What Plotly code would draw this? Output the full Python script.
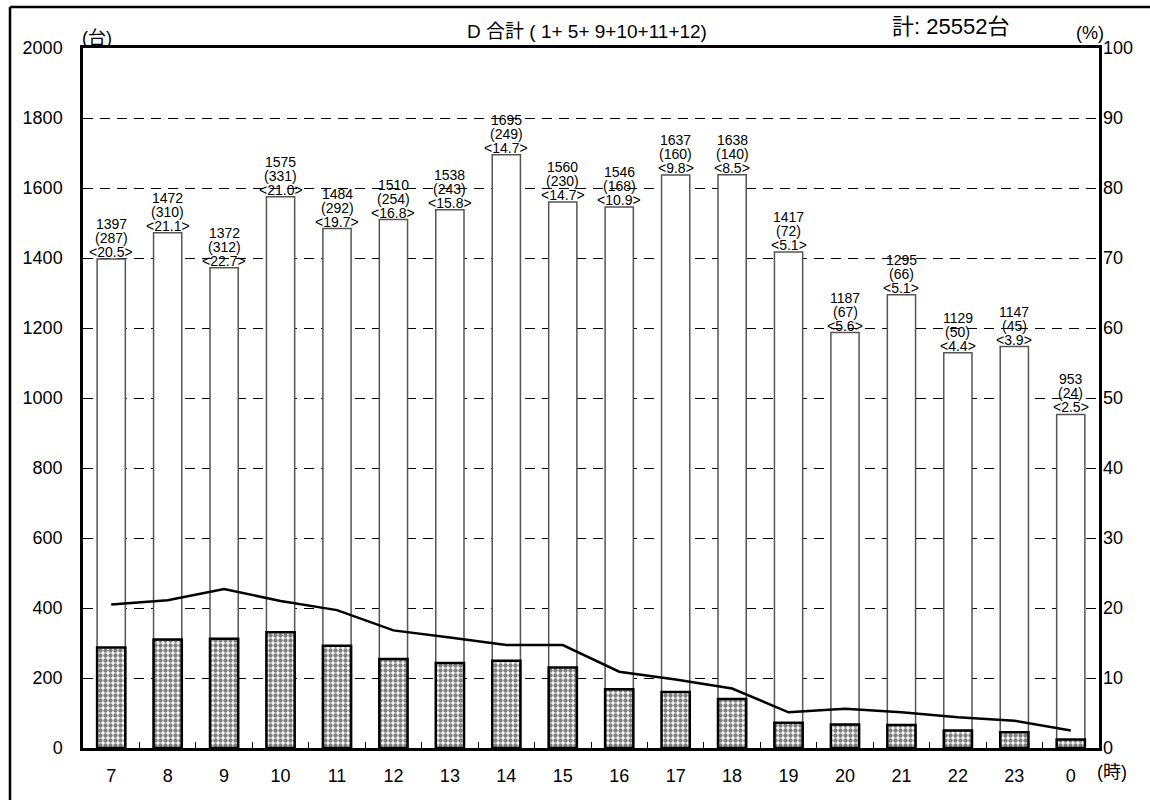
import plotly.graph_objects as go

hours = ["7", "8", "9", "10", "11", "12", "13", "14", "15", "16", "17", "18", "19", "20", "21", "22", "23", "0"]
total = [1397, 1472, 1372, 1575, 1484, 1510, 1538, 1695, 1560, 1546, 1637, 1638, 1417, 1187, 1295, 1129, 1147, 953]
large = [287, 310, 312, 331, 292, 254, 243, 249, 230, 168, 160, 140, 72, 67, 66, 50, 45, 24]
ratio = [20.5, 21.1, 22.7, 21.0, 19.7, 16.8, 15.8, 14.7, 14.7, 10.9, 9.8, 8.5, 5.1, 5.6, 5.1, 4.4, 3.9, 2.5]
title_text = "D 合計 ( 1+ 5+ 9+10+11+12)"
sum_text = "計: 25552台"

FONT = "Arial, 'Liberation Sans', 'Noto Sans CJK JP', sans-serif"

W, H = 1150, 800
L, R, T, B = 83, 51, 48, 52
PW, PH = W - L - R, H - T - B

def px(x):
    return (x - L) / PW

def py(y):
    return (H - B - y) / PH

fig = go.Figure()
fig.add_trace(go.Bar(
    x=hours, y=total, name="total",
    marker=dict(color="white", line=dict(color="#555555", width=1.5)),
    hoverinfo="x+y",
))
fig.add_trace(go.Bar(
    x=hours, y=large, name="large",
    marker=dict(color="white", line=dict(color="black", width=2.5),
                pattern=dict(shape=".", fgcolor="black", bgcolor="white", size=5, solidity=0.6)),
    hoverinfo="x+y",
))
fig.add_trace(go.Scatter(
    x=hours, y=ratio, yaxis="y2", mode="lines",
    line=dict(color="black", width=2.5),
))

annotations = []
for i, (t, l, r) in enumerate(zip(total, large, ratio)):
    for txt, sh in ((str(t), 35), (f"({l})", 21), (f"<{r:.1f}>", 7)):
        annotations.append(dict(
            x=i, y=t, xref="x", yref="y", text=txt.replace("<", "&lt;").replace(">", "&gt;"),
            showarrow=False, yshift=sh, yanchor="middle", xanchor="center",
            font=dict(family=FONT, size=14, color="black"),
        ))

annotations += [
    dict(x=px(97), y=py(38), xref="paper", yref="paper", text="(台)", showarrow=False,
         font=dict(family=FONT, size=18, color="black"), xanchor="center", yanchor="middle"),
    dict(x=px(587), y=py(32), xref="paper", yref="paper", text=title_text, showarrow=False,
         font=dict(family=FONT, size=19, color="black"), xanchor="center", yanchor="middle"),
    dict(x=px(950), y=py(27), xref="paper", yref="paper", text=sum_text, showarrow=False,
         font=dict(family=FONT, size=22, color="black"), xanchor="center", yanchor="middle"),
    dict(x=px(1090), y=py(33), xref="paper", yref="paper", text="(%)", showarrow=False,
         font=dict(family=FONT, size=18, color="black"), xanchor="center", yanchor="middle"),
    dict(x=px(1112), y=py(772), xref="paper", yref="paper", text="(時)", showarrow=False,
         font=dict(family=FONT, size=18, color="black"), xanchor="center", yanchor="middle"),
]

shapes = [
    dict(type="line", xref="paper", yref="paper", x0=px(10), x1=px(10), y0=py(7), y1=py(805),
         line=dict(color="black", width=2.5)),
    dict(type="line", xref="paper", yref="paper", x0=px(10), x1=px(1155), y0=py(7), y1=py(7),
         line=dict(color="black", width=2.5)),
]

fig.update_layout(
    width=W, height=H,
    margin=dict(l=L, r=R, t=T, b=B, autoexpand=False),
    paper_bgcolor="white", plot_bgcolor="white",
    barmode="overlay", bargap=0.5,
    showlegend=False,
    font=dict(family=FONT, color="black", size=18),
    xaxis=dict(type="category", showline=True, linecolor="black", linewidth=2.5, mirror=True,
               ticks="inside", tickson="boundaries", ticklen=6, tickcolor="black", tickwidth=1,
               showgrid=False, tickfont=dict(size=18), ticklabelstandoff=10),
    yaxis=dict(range=[0, 2000], dtick=200, showline=True, linecolor="black", linewidth=2.5, mirror=True,
               showgrid=True, gridcolor="black", gridwidth=1, griddash="10px,7px",
               ticks="", tickfont=dict(size=18), zeroline=False, ticklabelstandoff=14),
    yaxis2=dict(range=[0, 100], dtick=10, overlaying="y", side="right", showgrid=False,
                showline=False, ticks="", tickfont=dict(size=18), zeroline=False, ticklabelstandoff=3),
    annotations=annotations, shapes=shapes,
)

fig.write_html("out.html", config={"displayModeBar": False},
               post_script="document.body.style.margin='0';document.body.style.overflow='hidden';")
